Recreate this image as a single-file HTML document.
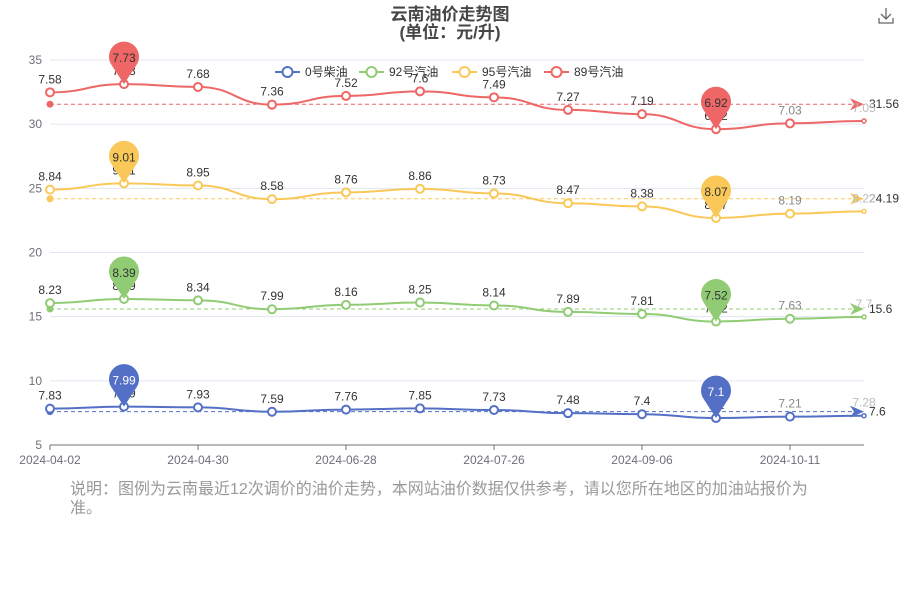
<!DOCTYPE html>
<html><head><meta charset="utf-8"><style>
body{margin:0;background:#fff;width:900px;height:600px;overflow:hidden}
svg{font-family:"Liberation Sans","Noto Sans CJK SC",sans-serif}
</style></head><body>
<svg id="chart" width="900" height="600">
<g>
<text x="450" y="20" text-anchor="middle" font-size="17" font-weight="bold" fill="#464646">云南油价走势图</text>
<text x="450" y="38" text-anchor="middle" font-size="17" font-weight="bold" fill="#464646">(单位：元/升)</text>
</g>
<g stroke="#666" fill="none" stroke-width="1.3">
<path d="M886 8 V19 M881 14 L886 19 L891 14 M879 18 V23 H893 V18"/>
</g>
<g id="grid"></g><g id="series"></g><g id="legend"></g>
<text x="70" y="494" font-size="16" fill="#999">说明：图例为云南最近12次调价的油价走势，本网站油价数据仅供参考，请以您所在地区的加油站报价为</text>
<text x="70" y="513" font-size="16" fill="#999">准。</text>
</svg>
<script>
const categories=["2024-04-02","","2024-04-30","","2024-06-28","","2024-07-26","","2024-09-06","","2024-10-11",""];
const seriesNames=["0号柴油","92号汽油","95号汽油","89号汽油"];
const diesel0=[7.83,7.99,7.93,7.59,7.76,7.85,7.73,7.48,7.4,7.1,7.21,7.28];
const gas92=[8.23,8.39,8.34,7.99,8.16,8.25,8.14,7.89,7.81,7.52,7.63,7.7];
const gas95=[8.84,9.01,8.95,8.58,8.76,8.86,8.73,8.47,8.38,8.07,8.19,8.22];
const gas89=[7.58,7.73,7.68,7.36,7.52,7.60,7.49,7.27,7.19,6.92,7.03,7.05];
const yTicks=[5,10,15,20,25,30,35];
const colors=["#5470c6","#91cc75","#fac858","#ee6666"];
const NS="http://www.w3.org/2000/svg";
const X0=50,X1=864,Y0=445,Y1=60,ymin=5,ymax=35;
const xs=i=>X0+(X1-X0)*i/(categories.length-1);
const ys=v=>Y0-(v-ymin)*(Y0-Y1)/(ymax-ymin);
function mk(tag,attrs,parent,txt){const e=document.createElementNS(NS,tag);for(const k in attrs)e.setAttribute(k,attrs[k]);if(txt!==undefined)e.textContent=txt;parent.appendChild(e);return e;}
const grid=document.getElementById('grid');
yTicks.forEach(t=>{
 const l=mk('line',{x1:X0,x2:X1,y1:ys(t),y2:ys(t),stroke:t===5?'#6e7079':'#e0e6f1'},grid);
 
 
 const tx=mk('text',{x:X0-8,y:ys(t)+4,'text-anchor':'end','font-size':12,fill:'#6e7079'},grid,t);
 
 
});
categories.forEach((c,i)=>{
 if(i%2===0){mk('line',{x1:xs(i),x2:xs(i),y1:Y0,y2:Y0+5,stroke:'#6e7079'},grid);}
 if(c){const tx=mk('text',{x:xs(i),y:Y0+19,'text-anchor':'middle','font-size':12,fill:'#6e7079'},grid,c);
 
 }
});
const raw=[diesel0,gas92,gas95,gas89];
const stacked=[];
raw.forEach((s,k)=>stacked.push(s.map((v,i)=>v+(k?stacked[k-1][i]:0))));
const sg=document.getElementById('series');
function pinPath(cx,cy){const r=15,ty=cy+27;return `M${cx-13} ${cy+7} A${r} ${r} 0 1 1 ${cx+13} ${cy+7} L${cx} ${ty} Z`;}
stacked.forEach((s,k)=>{
 const g=mk('g',{},sg);
 
 
 const c=colors[k];
 const avg=s.reduce((a,b)=>a+b,0)/s.length;
 const ay=ys(avg);
 mk('line',{x1:X0,x2:X1-6,y1:ay,y2:ay,stroke:c,'stroke-dasharray':'4,3','stroke-width':1},g);
 mk('circle',{cx:X0,cy:ay,r:3.5,fill:c},g);
 mk('path',{d:`M${X1-14} ${ay-6} L${X1} ${ay} L${X1-14} ${ay+6} L${X1-10} ${ay} Z`,fill:c},g);
 const al=mk('text',{x:X1+5,y:ay+4,'font-size':12,fill:'#333'},g,(Math.round(avg*100)/100).toString());
 
 
 let d=`M${xs(0)} ${ys(s[0])}`;
 for(let i=1;i<s.length;i++){const xa=xs(i-1),xb=xs(i),dx=xb-xa;d+=` C${xa+dx*0.5} ${ys(s[i-1])} ${xb-dx*0.5} ${ys(s[i])} ${xb} ${ys(s[i])}`;}
 const p=mk('path',{d,fill:'none',stroke:c,'stroke-width':2},g);
 
 
 s.forEach((v,i)=>{
  const last=i===s.length-1;
  const pt=mk('circle',{cx:xs(i),cy:ys(v),r:last?2:4,fill:'#fff',stroke:c,'stroke-width':last?1.5:2},g);
  
  
  const col=i===11?'#bbb':(i===10?'#888':'#333');
  const lb=mk('text',{x:xs(i),y:ys(v)-9,'text-anchor':'middle','font-size':12,fill:col},g,raw[k][i]);
  
  
 });
 let mx=0,mn=0;raw[k].forEach((v,i)=>{if(v>raw[k][mx])mx=i;if(v<raw[k][mn])mn=i;});
 [mx,mn].forEach(i=>{
  const cx=xs(i),cy=ys(s[i])-27;
  const pin=mk('path',{d:pinPath(cx,cy),fill:c},g);
  
  
  mk('text',{x:cx,y:cy+5,'text-anchor':'middle','font-size':12,fill:k===0?'#fff':'#333'},g,raw[k][i]);
 });
});
const lg=document.getElementById('legend');
const lx=[275,359,452,544];
seriesNames.forEach((n,k)=>{
 const g=mk('g',{},lg);
 
 
 mk('line',{x1:lx[k],x2:lx[k]+25,y1:72,y2:72,stroke:colors[k],'stroke-width':2},g);
 mk('circle',{cx:lx[k]+12.5,cy:72,r:5,fill:'#fff',stroke:colors[k],'stroke-width':2},g);
 mk('text',{x:lx[k]+30,y:76,'font-size':12,fill:'#333'},g,n);
});
</script>
</body></html>
